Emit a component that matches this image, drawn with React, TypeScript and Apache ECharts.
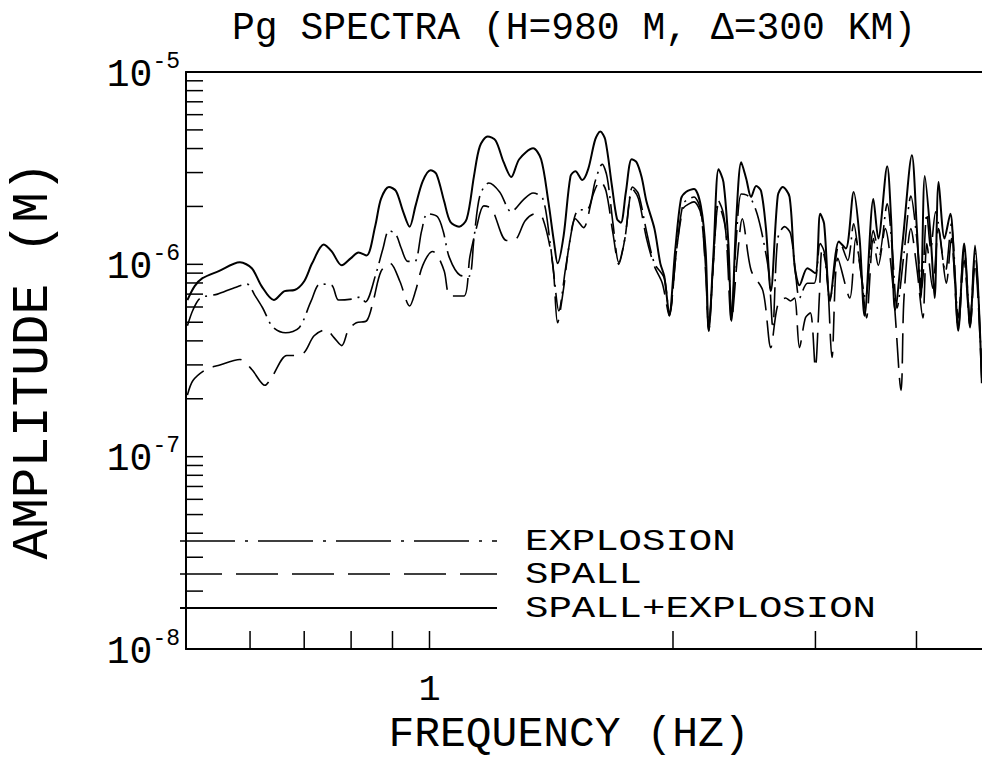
import React, { useEffect, useRef } from 'react';
import * as echarts from 'echarts';

const FONT = '"Liberation Mono", "DejaVu Sans Mono", monospace';

const titleText = 'Pg SPECTRA (H=980 M, \u0394=300 KM)';
const xName = 'FREQUENCY (HZ)';
const yName = 'AMPLITUDE (M)';
const legendNames = ['EXPLOSION', 'SPALL', 'SPALL+EXPLOSION'];

// [frequency Hz, amplitude in micrometres]
const spallExplosion = [
  [0.502, 0.652], [0.5125, 0.77], [0.524, 0.847], [0.548, 0.92], [0.583, 1.024], [0.603, 0.954],
  [0.62, 0.77], [0.642, 0.652], [0.662, 0.726], [0.681, 0.735], [0.7, 0.817], [0.716, 1.012],
  [0.74, 1.268], [0.757, 1.167], [0.779, 0.988], [0.799, 1.074], [0.817, 1.153], [0.836, 1.113],
  [0.857, 1.589], [0.871, 2.189], [0.891, 2.524], [0.909, 2.406], [0.927, 1.898], [0.945, 1.57],
  [0.961, 2.014], [0.981, 2.71], [1.003, 3.088], [1.02, 2.945], [1.043, 2.113], [1.061, 1.666],
  [1.088, 1.57], [1.112, 1.726], [1.135, 2.876], [1.154, 4.106], [1.18, 4.624], [1.207, 4.409],
  [1.235, 3.396], [1.262, 2.842], [1.291, 3.519], [1.343, 4.009], [1.374, 3.519], [1.401, 2.189],
  [1.425, 1.314], [1.44, 1.012], [1.465, 1.411], [1.494, 2.876], [1.515, 3.051], [1.545, 2.743],
  [1.571, 3.125], [1.603, 4.462], [1.626, 4.906], [1.649, 4.462], [1.681, 2.554], [1.705, 1.726],
  [1.724, 1.646], [1.749, 2.378], [1.778, 3.519], [1.803, 3.396], [1.829, 2.842], [1.855, 2.113],
  [1.897, 1.533], [1.929, 1.012], [1.951, 0.867], [1.979, 0.553], [2.012, 1.167], [2.046, 2.189],
  [2.075, 2.378], [2.123, 2.465], [2.165, 2.014], [2.195, 1.167], [2.214, 0.451], [2.245, 1.167],
  [2.277, 3.125], [2.309, 2.679], [2.342, 1.268], [2.362, 0.508], [2.395, 1.726], [2.429, 3.396],
  [2.464, 2.776], [2.498, 2.241], [2.534, 2.554], [2.57, 2.406], [2.606, 1.533], [2.642, 0.726],
  [2.695, 2.268], [2.733, 2.524], [2.787, 2.241], [2.827, 0.988], [2.867, 0.779], [2.932, 0.954],
  [2.999, 0.899], [3.041, 1.832], [3.075, 1.627], [3.127, 0.645], [3.207, 1.314], [3.271, 1.209],
  [3.345, 2.378], [3.402, 1.361], [3.45, 0.54], [3.538, 2.189], [3.588, 1.361], [3.68, 3.238],
  [3.721, 1.726], [3.764, 0.579], [3.849, 1.361], [3.948, 3.69], [4.004, 1.533], [4.049, 0.668],
  [4.096, 2.876], [4.166, 1.361], [4.212, 0.668], [4.26, 2.679], [4.332, 1.361], [4.405, 1.832],
  [4.455, 0.954], [4.505, 0.451], [4.581, 1.283], [4.659, 0.479], [4.725, 1.253], [4.818, 0.241],
];

const explosion = [
  [0.502, 0.479], [0.51, 0.579], [0.521, 0.668], [0.547, 0.7], [0.572, 0.752], [0.595, 0.789],
  [0.608, 0.692], [0.622, 0.593], [0.64, 0.473], [0.664, 0.441], [0.69, 0.468], [0.714, 0.645],
  [0.732, 0.789], [0.757, 0.779], [0.772, 0.652], [0.803, 0.66], [0.821, 0.676], [0.833, 0.637],
  [0.859, 0.899], [0.876, 1.209], [0.891, 1.497], [0.909, 1.428], [0.922, 1.223], [0.94, 1.036],
  [0.959, 1.036], [0.978, 1.497], [0.994, 1.832], [1.023, 1.767], [1.04, 1.48], [1.058, 1.087],
  [1.091, 0.878], [1.119, 0.867], [1.135, 1.361], [1.154, 2.268], [1.184, 2.647], [1.221, 2.378],
  [1.262, 1.876], [1.306, 2.164], [1.343, 2.35], [1.381, 2.189], [1.409, 1.314], [1.425, 0.878],
  [1.445, 0.573], [1.473, 0.954], [1.503, 1.589], [1.524, 1.898], [1.571, 1.944], [1.603, 2.71],
  [1.635, 3.316], [1.658, 2.842], [1.686, 1.627], [1.714, 1.024], [1.744, 1.361], [1.783, 2.524],
  [1.813, 2.323], [1.855, 1.48], [1.897, 1.012], [1.951, 0.847], [1.979, 0.54], [2.018, 1.139],
  [2.058, 2.063], [2.093, 2.189], [2.123, 2.241], [2.165, 1.898], [2.195, 0.954], [2.214, 0.468],
  [2.245, 1.074], [2.277, 2.138], [2.309, 1.832], [2.342, 1.074], [2.362, 0.527], [2.395, 1.361],
  [2.429, 2.323], [2.464, 2.296], [2.498, 2.189], [2.541, 1.832], [2.584, 1.361], [2.628, 0.899],
  [2.657, 0.468], [2.695, 1.361], [2.748, 1.57], [2.795, 1.445], [2.835, 0.899], [2.867, 0.668],
  [2.932, 0.798], [2.99, 0.798], [3.041, 1.283], [3.075, 1.167], [3.127, 0.668], [3.216, 1.314],
  [3.289, 1.049], [3.345, 1.627], [3.402, 1.012], [3.459, 0.668], [3.538, 1.497], [3.598, 1.126],
  [3.68, 2.063], [3.733, 1.209], [3.784, 0.593], [3.86, 1.139], [3.937, 2.268], [4.004, 1.361],
  [4.061, 0.752], [4.119, 1.832], [4.166, 1.209], [4.224, 1.876], [4.344, 0.92], [4.417, 1.627],
  [4.505, 0.527], [4.581, 1.209], [4.659, 0.527], [4.725, 1.139], [4.818, 0.258],
];

const spall = [
  [0.502, 0.209], [0.51, 0.249], [0.529, 0.284], [0.548, 0.298], [0.583, 0.32], [0.603, 0.284],
  [0.626, 0.235], [0.638, 0.258], [0.666, 0.336], [0.681, 0.336], [0.7, 0.348], [0.72, 0.425],
  [0.745, 0.457], [0.762, 0.416], [0.779, 0.378], [0.794, 0.457], [0.812, 0.497], [0.836, 0.508],
  [0.852, 0.645], [0.871, 0.92], [0.894, 1.012], [0.919, 0.817], [0.945, 0.607], [0.961, 0.726],
  [0.981, 0.988], [1.009, 1.167], [1.023, 1.113], [1.043, 0.92], [1.061, 0.684], [1.103, 0.684],
  [1.122, 1.099], [1.144, 1.57], [1.167, 2.014], [1.194, 1.944], [1.245, 1.33], [1.277, 1.346],
  [1.313, 1.686], [1.351, 1.832], [1.381, 1.726], [1.42, 1.012], [1.44, 0.497], [1.465, 0.752],
  [1.486, 1.209], [1.515, 1.726], [1.55, 1.551], [1.594, 2.323], [1.626, 2.71], [1.653, 2.406],
  [1.686, 1.445], [1.714, 1.0], [1.744, 1.361], [1.783, 2.465], [1.813, 2.189], [1.855, 1.361],
  [1.897, 0.977], [1.94, 0.798], [1.979, 0.54], [2.018, 1.139], [2.058, 1.944], [2.093, 2.063],
  [2.123, 2.113], [2.165, 1.832], [2.195, 0.899], [2.214, 0.451], [2.245, 1.049], [2.277, 2.063],
  [2.322, 1.533], [2.362, 0.508], [2.402, 1.074], [2.436, 1.726], [2.498, 0.931], [2.584, 0.726],
  [2.642, 0.369], [2.695, 0.615], [2.756, 0.668], [2.795, 0.645], [2.827, 0.668], [2.867, 0.369],
  [2.916, 0.527], [2.957, 0.559], [2.999, 0.291], [3.033, 0.668], [3.058, 1.209], [3.101, 0.899],
  [3.145, 0.328], [3.198, 1.074], [3.308, 0.668], [3.364, 1.361], [3.421, 0.847], [3.469, 0.527],
  [3.538, 1.361], [3.588, 0.988], [3.659, 1.533], [3.743, 0.752], [3.828, 0.221], [3.86, 0.668],
  [3.937, 1.533], [4.004, 0.954], [4.073, 0.527], [4.119, 1.283], [4.188, 0.752], [4.26, 1.533],
  [4.355, 0.798], [4.417, 1.361], [4.505, 0.468], [4.581, 1.049], [4.659, 0.468], [4.725, 1.012],
  [4.818, 0.244],
];

const xMin = 0.5;
const xMax = 4.82;
const yMin = 1e-8;
const yMax = 1e-5;
const xTicks = [0.6, 0.7, 0.8, 0.9, 1, 2, 3, 4];
const xTickLabels: Record<string, string> = { '1': '1' };
const yTickMantissas = [1, 2, 3, 4, 5, 6, 7, 8, 9];
const yTickDecades = [1e-8, 1e-7, 1e-6];

const UM = 1e-6;

export default function App() {
  const ref = useRef<HTMLDivElement>(null);

  useEffect(() => {
    if (!ref.current) return;
    const chart = echarts.init(ref.current, undefined, { renderer: 'svg' });

    const toSeries = (arr: number[][]) => arr.map(([f, a]) => [f, a * UM]);
    const yTicks: number[] = [];
    yTickDecades.forEach((d) => yTickMantissas.forEach((m) => { if (!(d === 1e-8 && m === 1)) yTicks.push(m * d); }));

    const axisLine = { show: true, lineStyle: { color: '#000', width: 2 } };
    const legendRows = [541, 574, 608];
    const legendDash: any[] = [[55, 10, 3, 10], [42, 14], null];
    const legendOrder = [0, 1, 2];

    const graphic: any[] = [];
    legendOrder.forEach((k, i) => {
      const style: any = { stroke: '#000', lineWidth: k === 2 ? 2 : 1.6 };
      if (legendDash[k]) style.lineDash = legendDash[k];
      graphic.push({ type: 'line', shape: { x1: 180, y1: legendRows[i], x2: 497, y2: legendRows[i] }, style });
      graphic.push({
        type: 'text', x: 525, y: legendRows[i] + 1, scaleX: 1.3,
        style: { text: legendNames[k], fontFamily: FONT, fontSize: 30, fill: '#000', verticalAlign: 'middle' },
      });
    });

    const option: any = {
      animation: false,
      backgroundColor: '#fff',
      title: {
        text: titleText,
        left: 227,
        top: 4,
        textStyle: { fontFamily: FONT, fontSize: 38, fontWeight: 'normal', color: '#000' },
      },
      grid: { left: 177, top: 72, right: 0, bottom: 106, containLabel: false },
      xAxis: [
        {
          type: 'log', logBase: 10, min: xMin, max: xMax, position: 'bottom',
          axisLine, axisTick: { show: false }, axisLabel: { show: false }, splitLine: { show: false },
          name: xName, nameLocation: 'middle', nameGap: 64,
          nameTextStyle: { fontFamily: FONT, fontSize: 43, color: '#000', padding: [0, 30, 0, 0] },
        },
        {
          type: 'log', logBase: 10, min: xMin, max: xMax, position: 'top',
          axisLine, axisTick: { show: false }, axisLabel: { show: false }, splitLine: { show: false },
        },
      ],
      yAxis: {
        type: 'log', logBase: 10, min: yMin, max: yMax,
        axisLine, axisTick: { show: false }, splitLine: { show: false },
        axisLabel: {
          margin: 6,
          formatter: (v: number) => `{b|10}{s|${Math.round(Math.log10(v))}}`,
          rich: {
            b: { fontFamily: FONT, fontSize: 38, lineHeight: 44, color: '#000', verticalAlign: 'bottom' },
            s: { fontFamily: FONT, fontSize: 23, lineHeight: 23, color: '#000', verticalAlign: 'top' },
          },
        },
        name: yName, nameLocation: 'middle', nameGap: 127,
        nameTextStyle: { fontFamily: FONT, fontSize: 51, color: '#000' },
      },
      series: [
        {
          name: legendNames[2], type: 'line', data: toSeries(spallExplosion), showSymbol: false,
          smooth: 0.3, lineStyle: { color: '#000', width: 2 }, z: 3,
        },
        {
          name: legendNames[0], type: 'line', data: toSeries(explosion), showSymbol: false,
          smooth: 0.3, lineStyle: { color: '#000', width: 1.6, type: [30, 6, 2, 6] }, z: 2,
        },
        {
          name: legendNames[1], type: 'line', data: toSeries(spall), showSymbol: false,
          smooth: 0.3, lineStyle: { color: '#000', width: 1.6, type: [30, 10] }, z: 2,
        },
        {
          type: 'custom', coordinateSystem: 'cartesian2d', silent: true, clip: false, z: 5,
          data: yTicks.map((v) => [xMin, v]),
          renderItem: (_p: any, api: any) => {
            const p = api.coord([api.value(0), api.value(1)]);
            return { type: 'line', shape: { x1: p[0], y1: p[1], x2: p[0] + 17, y2: p[1] }, style: { stroke: '#000', lineWidth: 1.5 } };
          },
        },
        {
          type: 'custom', coordinateSystem: 'cartesian2d', silent: true, clip: false, z: 5,
          data: xTicks.map((v) => [v, yMin]),
          renderItem: (_p: any, api: any) => {
            const f = api.value(0);
            const p = api.coord([f, api.value(1)]);
            const children: any[] = [
              { type: 'line', shape: { x1: p[0], y1: p[1], x2: p[0], y2: p[1] - 18 }, style: { stroke: '#000', lineWidth: 1.5 } },
            ];
            const lbl = xTickLabels[String(f)];
            if (lbl) {
              children.push({
                type: 'text', x: p[0], y: p[1] + 22,
                style: { text: lbl, fontFamily: FONT, fontSize: 37, fill: '#000', align: 'center', verticalAlign: 'top' },
              });
            }
            return { type: 'group', children };
          },
        },
      ],
      graphic,
    };

    chart.setOption(option);
    return () => chart.dispose();
  }, []);

  return <div ref={ref} style={{ position: 'absolute', left: 0, top: 0, width: 982, height: 761, background: '#fff' }} />;
}
